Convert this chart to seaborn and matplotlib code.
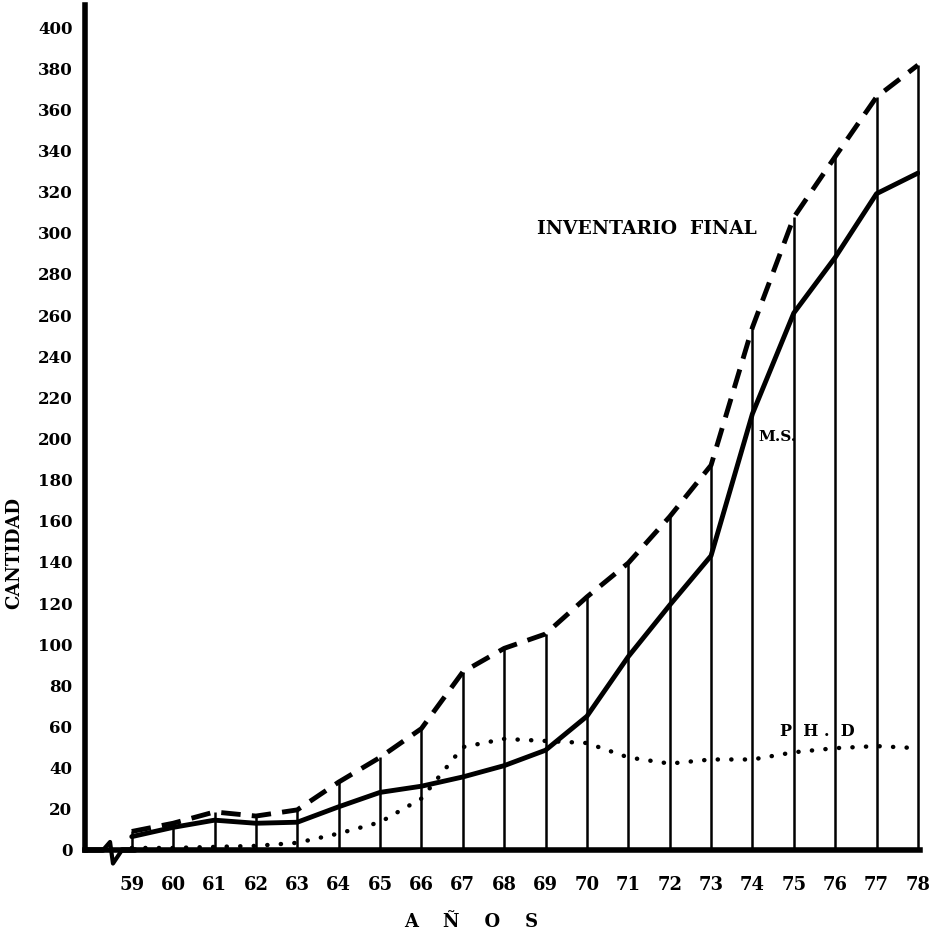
import pandas as pd
import seaborn as sns
import matplotlib.pyplot as plt

anios = [59, 60, 61, 62, 63, 64, 65, 66, 67, 68, 69, 70, 71, 72, 73, 74, 75, 76, 77, 78]
inventario_final = [9, 13, 18.5, 16.5, 19.5, 33, 45, 59, 86.5, 98, 105, 123, 139.5, 162, 187, 254, 307.5, 337, 366, 381.5]
ms = [6.5, 11, 14.5, 13, 13.5, 21, 28, 31, 35.5, 41, 48.5, 65, 94, 119, 143, 212, 261, 288, 319, 329]
phd = [1, 1, 1.5, 2, 3.5, 8, 13.5, 25, 50, 54, 53, 52, 45, 42, 44, 44, 47.5, 49.5, 50.5, 49.5]
etiquetas_y = list(range(0, 401, 20))

df = pd.DataFrame({'anio': anios, 'inv': inventario_final, 'ms': ms, 'phd': phd})

sns.set_style('white', {'axes.edgecolor': 'black', 'text.color': 'black',
                        'xtick.color': 'black', 'ytick.color': 'black',
                        'axes.labelcolor': 'black'})
plt.rcParams['font.family'] = ['DejaVu Serif']
plt.rcParams['font.weight'] = 'bold'

fig = plt.figure(figsize=(9.42, 9.41), dpi=100)
ax = fig.add_axes([85 / 942, 91 / 941, (920 - 85) / 942, (850 - 5) / 941])

# lineas verticales hasta el inventario final
ax.vlines(df['anio'], 0, df['inv'], color='black', linewidth=1.8)

sns.lineplot(data=df, x='anio', y='inv', ax=ax, color='black', linewidth=3.5,
             linestyle=(0, (4, 2.3)))
sns.lineplot(data=df, x='anio', y='ms', ax=ax, color='black', linewidth=3.5)
sns.lineplot(data=df, x='anio', y='phd', ax=ax, color='black', linewidth=3.2,
             linestyle=(0, (0.05, 3.0)), dash_capstyle='round')

ax.set_xlim(57.87, 78.05)
ax.set_ylim(0, 410.7)
ax.set_xticks(anios)
ax.set_xticklabels([str(a) for a in anios], fontsize=13, fontweight='bold')
ax.set_yticks(etiquetas_y)
ax.set_yticklabels([str(v) for v in etiquetas_y], fontsize=12, fontweight='bold')

for s in ['top', 'right']:
    ax.spines[s].set_visible(False)
ax.spines['left'].set_linewidth(4)
ax.spines['bottom'].set_linewidth(4)
ax.tick_params(axis='x', direction='out', length=11, width=3.5, pad=8, colors='black')
ax.tick_params(axis='y', direction='out', length=8, width=3, pad=1, colors='black')

# corte del eje x
zx = [0.0216, 0.030, 0.0335, 0.0443]
zy = [0.0, 0.0095, -0.016, 0.0]
ax.plot([0.015, 0.05], [0, 0], transform=ax.transAxes, color='white', linewidth=5, clip_on=False)
ax.plot([0.0, 0.0216], [0, 0], transform=ax.transAxes, color='black', linewidth=4, clip_on=False)
ax.plot(zx, zy, transform=ax.transAxes, color='black', linewidth=3, clip_on=False)
ax.plot([0.0443, 0.06], [0, 0], transform=ax.transAxes, color='black', linewidth=4, clip_on=False)

ax.set_xlabel('A    Ñ    O    S', fontsize=13, fontweight='bold')
ax.set_ylabel('CANTIDAD', fontsize=13, fontweight='bold')
ax.xaxis.set_label_coords(0.462, -0.074)
ax.yaxis.set_label_coords(-0.074, 0.351)

ax.text(68.79, 302, 'INVENTARIO  FINAL', fontsize=13.5, fontweight='bold', va='center', ha='left')
ax.text(74.14, 200.7, 'M.S.', fontsize=11, fontweight='bold', va='center', ha='left')
ax.text(74.67, 57.8, 'P  H .  D', fontsize=11.5, fontweight='bold', va='center', ha='left')

plt.savefig('out.png', dpi=100)
plt.close()
